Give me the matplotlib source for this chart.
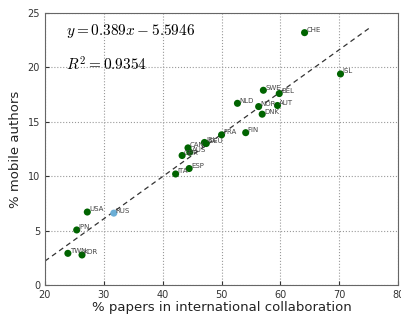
import numpy as np
import matplotlib.pyplot as plt

plt.rcParams['mathtext.fontset'] = 'cm'

countries = ['CHE', 'ISL', 'SWE', 'BEL', 'NLD', 'NOR', 'AUT', 'DNK', 'FIN', 'FRA',
             'IRL', 'DEU', 'CAN', 'AUS', 'GBR', 'ESP', 'ITA', 'RUS', 'USA', 'JPN',
             'TWN', 'KOR']
intl_collab = [64.1, 70.2, 57.1, 59.8, 52.7, 56.3, 59.5, 56.9, 54.1, 50.0,
               47.1, 47.4, 44.3, 44.6, 43.3, 44.5, 42.2, 31.7, 27.2, 25.4,
               23.9, 26.3]
mobile = [23.2, 19.4, 17.9, 17.6, 16.7, 16.4, 16.5, 15.7, 14.0, 13.8,
          13.1, 13.0, 12.6, 12.2, 11.9, 10.7, 10.2, 6.6, 6.7, 5.05,
          2.9, 2.75]
slope, intercept = 0.389, -5.5946
r2 = 0.9354

fig = plt.figure(figsize=(4.01, 3.19), dpi=100)
ax = fig.add_axes([0.112, 0.107, 0.881, 0.852])

colors = ['#6baed6' if c == 'RUS' else '#006400' for c in countries]
ax.scatter(intl_collab, mobile, s=26, c=colors, zorder=3, linewidths=0)
for c, x, y in zip(countries, intl_collab, mobile):
    ax.text(x + 0.3, y + 0.05, c, fontsize=5, color='#444444', zorder=4)

xs = np.array([20, 75])
ax.plot(xs, slope * xs + intercept, '--', color='#333333', lw=0.9, dashes=(4, 3))

ax.text(23.5, 23.0, r'$y=0.389x-5.5946$', fontsize=11)
ax.text(23.5, 19.7, r'$R^2=0.9354$', fontsize=11)

ax.set_xlim(20, 80)
ax.set_ylim(0, 25)
ax.set_xticks(range(20, 81, 10))
ax.set_yticks(range(0, 26, 5))
ax.grid(True, linestyle=':', color='#999999', lw=0.8)
ax.tick_params(direction='in', labelsize=7, colors='#333333', length=3)
for s in ax.spines.values():
    s.set_color('#666666')
ax.set_xlabel('% papers in international collaboration', fontsize=9.5, color='#222222', labelpad=1)
ax.set_ylabel('% mobile authors', fontsize=9.5, color='#222222', labelpad=4)

plt.savefig('out.png', dpi=100)
